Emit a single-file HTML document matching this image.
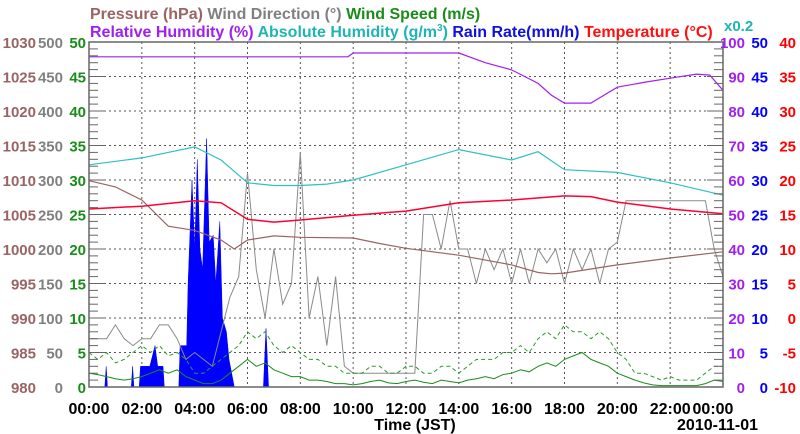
<!DOCTYPE html>
<html><head><meta charset="utf-8"><style>
body{margin:0;background:#fff}
svg{display:block;font-family:"Liberation Sans",Arial,sans-serif;font-weight:bold}
</style></head><body>
<svg id="c" width="800" height="434" viewBox="0 0 800 434">
<g font-size="16">
<text x="90" y="19"><tspan fill="#9a6464">Pressure (hPa)</tspan> <tspan fill="#808080">Wind Direction (°)</tspan> <tspan fill="#1a8c1a">Wind Speed (m/s)</tspan></text>
<text x="90" y="37"><tspan fill="#a020f0">Relative Humidity (%)</tspan> <tspan fill="#20b4b4">Absolute Humidity (g/m<tspan font-size="10" dy="-6">3</tspan><tspan dy="6">)</tspan></tspan> <tspan fill="#1010e0">Rain Rate(mm/h)</tspan> <tspan fill="#ff1010">Temperature (°C)</tspan></text>
<text x="724" y="31" fill="#20b4b4" font-size="15">x0.2</text>
</g>
<g id="grid"></g>
<g id="series"></g>
<g id="axes"></g>
</svg>
<script>
const hoursLabels=["00:00","02:00","04:00","06:00","08:00","10:00","12:00","14:00","16:00","18:00","20:00","22:00","00:00"];
const pressTicks=[980,985,990,995,1000,1005,1010,1015,1020,1025,1030];
const dirTicks=[0,50,100,150,200,250,300,350,400,450,500];
const spdTicks=[0,5,10,15,20,25,30,35,40,45,50];
const rhTicks=[0,10,20,30,40,50,60,70,80,90,100];
const rainTicks=[0,5,10,15,20,25,30,35,40,45,50];
const tempTicks=[-10,-5,0,5,10,15,20,25,30,35,40];

const tempT=[0,2,4,5,6,7,8,10,12,14,16,18,19,20,22,24];
const tempV=[15.8,16.2,17.0,16.7,14.3,13.9,14.2,14.9,15.5,16.7,17.1,17.7,17.6,16.8,15.8,15.1];
const presT=[0,1,2,3,4,5,5.5,6,7,8,10,11,12,14,16,17,17.5,18,20,22,24];
const presV=[1009.9,1009,1007.1,1003.3,1002.7,1001.3,1000,1001.3,1001.9,1001.7,1001.6,1000.8,1000.1,999.1,997.7,996.6,996.4,996.5,997.7,998.7,999.6];
const ahT=[0,2,4,5,6,7,8,9,10,12,14,16,17,18,20,22,24];
const ahV=[32.2,33.2,34.8,32.9,29.6,29.2,29.2,29.4,30.0,32.2,34.4,32.9,34.1,31.5,31.1,29.6,27.8];
const rhT=[0,9.8,10,10.3,14,15,16,17,17.5,18,19,19.5,20,21,22,23,23.5,24];
const rhV=[95.7,95.7,96.8,96.8,96.8,94,91.9,88,84.6,82.3,82.3,84.6,86.9,88.3,89.5,90.7,90.4,86];
const dirV=[70,70,70,90,70,60,70,70,90,90,70,40,50,40,30,80,130,160,310,170,100,200,120,150,340,100,160,60,160,30,20,20,20,20,20,20,20,20,250,250,200,270,200,200,150,200,170,200,150,200,150,200,180,200,150,200,170,200,150,200,210,270,270,270,270,270,270,270,270,270,270,200,160];
const spdV=[2,1.8,1.5,1.2,1,1.2,1.5,2,2.5,2,2.5,1.5,1,0.5,0.5,1,2,3,4,3,3.5,2.5,2,1.5,1.5,1,1,0.8,0.5,0.5,0.3,0.5,0.8,1,0.6,0.5,0.8,1,0.7,0.5,1,0.8,0.6,1,1.2,1.5,1.2,1.8,2,2.5,2.2,3,3.5,3,4,4.5,5,4,3.5,3,2,1.5,1,0.6,0.3,0.2,0.2,0.2,0.2,0.2,0.5,1,0.8];
const gustV=[5,4,5,3.5,4,5,6,5,6,4.5,5,4,2,2,3,4,5,6,8,7,8,6,5,6,5,4,4,3,3,2,2,2,3,3,2,2,3,3,2,2,3,3,2,3,4,4,4,5,5,6,5,7,8,7,9,8,8,7,8,7,5,4,2,2,1.5,1,1.5,1,1,1,2,3,3];
const rainT=[0,0.6,0.65,0.7,1.6,1.65,1.7,1.9,1.95,2.0,2.2,2.3,2.5,2.6,2.8,2.85,3.4,3.45,3.7,3.75,3.9,4.0,4.1,4.2,4.3,4.45,4.55,4.7,4.8,4.95,5.05,5.2,5.3,5.5,6.6,6.7,6.8,6.9,24];
const rainV=[0,0,3,0,0,3,0,0,3,3,3,3,6,3,3,0,0,6,6,15,30,20,33,20,17,36,21,22,15,24,10,8,4,0,0,8.5,0,0,0];

const X0=89,X1=723,Y0=387,Y1=42;
const sx=h=>X0+(X1-X0)*h/24;
const sy=(v,lo,hi)=>Y0-(Y0-Y1)*(v-lo)/(hi-lo);
const NS="http://www.w3.org/2000/svg";
function mk(t,a,p){const e=document.createElementNS(NS,t);for(const k in a)e.setAttribute(k,a[k]);p.appendChild(e);return e;}
const grid=document.getElementById('grid'),ser=document.getElementById('series'),ax=document.getElementById('axes');
for(let i=1;i<12;i++){const l=mk('line',{x1:sx(i*2),x2:sx(i*2),y1:Y1,y2:Y0,stroke:'#555','stroke-dasharray':'2,3','stroke-width':1},grid);

}
for(let i=1;i<10;i++){const y=sy(i*5,0,50);const l=mk('line',{x1:X0,x2:X1,y1:y,y2:y,stroke:'#555','stroke-dasharray':'2,3','stroke-width':1},grid);

}
function poly(T,V,lo,hi,color,name,dash,w){const pts=T.map((t,i)=>sx(t).toFixed(1)+','+sy(V[i],lo,hi).toFixed(1)).join(' ');
const p=mk('polyline',{points:pts,fill:'none',stroke:color,'stroke-width':w||1.2},ser);if(dash)p.setAttribute('stroke-dasharray',dash);

}
const idxT=n=>Array.from({length:n},(_,i)=>i*24/(n-1));
{const pts=[sx(0)+','+Y0].concat(rainT.map((t,i)=>sx(t).toFixed(1)+','+sy(rainV[i],0,50).toFixed(1))).concat([sx(24)+','+Y0]).join(' ');
const p=mk('polygon',{points:pts,fill:'#0000ff',stroke:'#0000ff','stroke-width':0.5},ser);

}
poly(idxT(dirV.length),dirV,0,500,'#8a8a8a','wind-direction-line',null,1);
poly(idxT(gustV.length),gustV,0,50,'#2a9a2a','wind-gust-line','4,3',1);
poly(idxT(spdV.length),spdV,0,50,'#1a8c1a','wind-speed-line',null,1);
poly(presT,presV,980,1030,'#9a6464','pressure-line');
poly(ahT,ahV,0,50,'#30c0c0','absolute-humidity-line');
poly(rhT,rhV,0,100,'#a020f0','relative-humidity-line');
poly(tempT,tempV,-10,40,'#ff0030','temperature-line',null,1.5);
{const r=mk('rect',{x:X0,y:Y1,width:X1-X0,height:Y0-Y1,fill:'none',stroke:'#666','stroke-width':1.5},ax);

}
for(let i=0;i<=50;i++){const y=sy(i,0,50);const L=i%5==0?16:9;
const a=mk('line',{x1:X0,x2:X0+L,y1:y,y2:y,stroke:'#666'},ax);
const b=mk('line',{x1:X1-L,x2:X1,y1:y,y2:y,stroke:'#666'},ax);}
function labels(arr,lo,hi,x,anchor,color,name){arr.forEach(v=>{const t=mk('text',{x:x,y:sy(v,lo,hi)+6,'text-anchor':anchor,fill:color,'font-size':15},ax);t.textContent=v;

});}
labels(pressTicks,980,1030,36,'end','#9a6464','pressure-tick-label');
labels(dirTicks,0,500,63,'end','#808080','wind-direction-tick-label');
labels(spdTicks,0,50,86,'end','#1a8c1a','wind-speed-tick-label');
labels(rhTicks,0,100,745,'end','#a020f0','humidity-tick-label');
labels(rainTicks,0,50,768,'end','#0000ff','rain-tick-label');
labels(tempTicks,-10,40,796,'end','#ff0000','temperature-tick-label');
hoursLabels.forEach((s,i)=>{let x=sx(i*2);if(i==12)x-=10;const t=mk('text',{x:x,y:414,'text-anchor':'middle',fill:'#000','font-size':16},ax);t.textContent=s;

});
{const t=mk('text',{x:415,y:430,'text-anchor':'middle','font-size':16},ax);t.textContent='Time (JST)';}
{const t=mk('text',{x:758,y:430,'text-anchor':'end','font-size':16},ax);t.textContent='2010-11-01';}
</script>
</body></html>
